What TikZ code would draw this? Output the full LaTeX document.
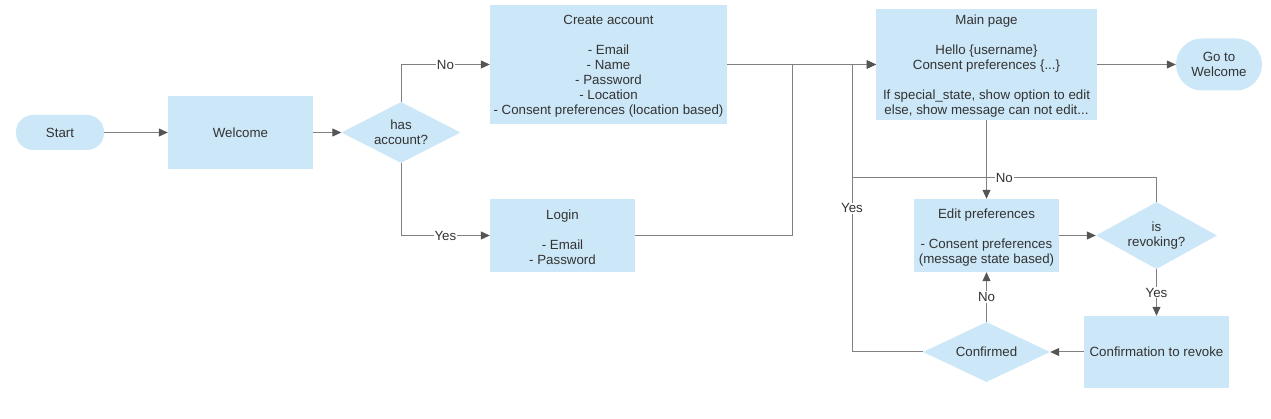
\documentclass[tikz,border=0pt]{standalone}
\usepackage{fontspec}
\setmainfont{Liberation Sans}
\usetikzlibrary{shapes.geometric,arrows.meta}
\definecolor{boxfill}{HTML}{CCE7F7}
\definecolor{linec}{HTML}{808080}
\definecolor{tipc}{HTML}{555555}
\definecolor{txt}{HTML}{333333}
\newcommand{\topstrut}{\rule{0pt}{13.5pt}}
\begin{document}
\begin{tikzpicture}[x=1pt,y=-1pt, font=\fontsize{13.3}{15}\selectfont, text=txt,
 box/.style={rectangle, fill=boxfill, inner sep=0pt, align=center},
 dia/.style={diamond, aspect=2, fill=boxfill, inner sep=0pt, align=center},
 conn/.style={draw=linec, line width=1pt, -{Triangle[length=9pt,width=8pt,color=tipc]}},
 lbl/.style={fill=white, inner sep=1pt, text=txt}]
\useasboundingbox (0,0) rectangle (1271,419);
\node[box, rounded corners=17pt, minimum width=88pt, minimum height=35pt] (start) at (60,132.5) {Start};
\node[box, minimum width=145pt, minimum height=73pt] (welcome) at (240.5,132.5) {Welcome};
\node[dia, minimum width=119pt, minimum height=61pt] (has) at (401,132.5) {has\\account?};
\node[box, minimum width=237pt, minimum height=119pt] (create) at (608.5,64.5) {\topstrut Create account\\[15pt]- Email\\- Name\\- Password\\- Location\\- Consent preferences (location based)};
\node[box, minimum width=145pt, minimum height=73pt] (login) at (562.5,235.5) {\topstrut Login\\[15pt]- Email\\- Password};
\node[box, minimum width=221pt, minimum height=111pt] (main) at (986.5,64.5) {\topstrut Main page\\[15pt]Hello \{username\}\\Consent preferences \{...\}\\[15pt]If special\_state, show option to edit\\else, show message can not edit...};
\node[box, rounded corners=26pt, minimum width=86pt, minimum height=52pt] (goto) at (1219,64.5) {Go to\\Welcome};
\node[box, minimum width=145pt, minimum height=73pt] (edit) at (986.5,235.5) {\topstrut Edit preferences\\[15pt]- Consent preferences\\(message state based)};
\node[dia, minimum width=121pt, minimum height=67pt] (revoke) at (1156.5,235.5) {is\\revoking?};
\node[box, minimum width=145pt, minimum height=72pt] (confrev) at (1156.5,352) {Confirmation to revoke};
\node[dia, minimum width=127pt, minimum height=60pt] (confirmed) at (986.5,352) {Confirmed};
\coordinate (j1) at (792,0);
\coordinate (j2) at (852,0);
\coordinate (ny) at (0,178);
\draw[conn] (start) -- (welcome);
\draw[conn] (welcome) -- (has);
\draw[conn] (has.north) |- node[lbl,pos=0.75]{No} (create.west);
\draw[conn] (has.south) |- node[lbl,pos=0.75]{Yes} (login.west);
\draw[conn] (create.east) -- (main.west);
\draw[conn] (login.east) -| (j1 |- main.west) -- (main.west);
\draw[conn] (revoke.north) |- node[lbl,pos=0.75]{No} (j2 |- ny) -- (j2 |- main.west) -- (main.west);
\draw[conn] (confirmed.west) -| node[lbl,pos=0.75]{Yes} (j2 |- main.west) -- (main.west);
\draw[conn] (main.south) -- (edit.north);
\draw[conn] (edit.east) -- (revoke.west);
\draw[conn] (revoke.south) -- node[lbl]{Yes} (confrev.north);
\draw[conn] (confrev.west) -- (confirmed.east);
\draw[conn] (confirmed.north) -- node[lbl]{No} (edit.south);
\draw[conn] (main.east) -- (goto.west);
\end{tikzpicture}
\end{document}
